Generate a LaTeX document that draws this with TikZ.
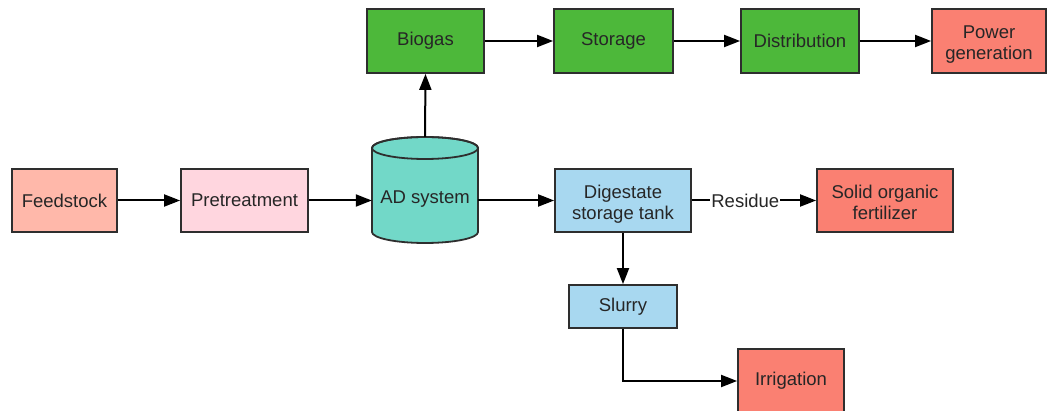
\documentclass[tikz,border=0pt]{standalone}
\usepackage{fontspec}
\setmainfont{Liberation Sans}
\usetikzlibrary{arrows.meta}
\definecolor{bordercol}{HTML}{2E2E2E}
\definecolor{txtcol}{HTML}{262626}
\definecolor{feedcol}{HTML}{FFB8AA}
\definecolor{precol}{HTML}{FFD6DF}
\definecolor{adcol}{HTML}{72D8C8}
\definecolor{bluecol}{HTML}{A8D8F0}
\definecolor{salmoncol}{HTML}{FA8072}
\definecolor{greencol}{HTML}{4DB83A}
\newcommand{\twoln}[2]{\raisebox{-4pt}[\height][\depth]{\begin{tabular}{@{}c@{}}#1\\#2\end{tabular}}}
\tikzset{
  box/.style={draw=bordercol, line width=1.8pt, text=txtcol, align=center,
    font=\fontsize{18.5}{21}\selectfont, inner sep=0pt, minimum height=64pt},
  conn/.style={draw=black, line width=2pt, -{Triangle[length=16pt,width=12pt]}},
}
\begin{document}
\begin{tikzpicture}[x=1pt,y=1pt]
\useasboundingbox (0,0) rectangle (1061,-411);
\clip (0,0) rectangle (1061,-411);
% boxes
\node[box, fill=feedcol, minimum width=105pt, minimum height=63pt] (feed) at (64.5,-200.5) {Feedstock};
\node[box, fill=precol, minimum width=127pt, minimum height=63pt] (pre) at (244.5,-200.5) {Pretreatment};
\node[box, fill=bluecol, minimum width=136pt, minimum height=63pt] (dig) at (623,-200.5) {\twoln{Digestate}{storage tank}};
\node[box, fill=salmoncol, minimum width=136pt, minimum height=63pt] (solid) at (885,-200.5) {\twoln{Solid organic}{fertilizer}};
\node[box, fill=greencol, minimum width=117pt] (biogas) at (425.5,-41) {Biogas};
\node[box, fill=greencol, minimum width=119pt] (storage) at (613.5,-41) {Storage};
\node[box, fill=greencol, minimum width=118pt] (dist) at (800,-41) {Distribution};
\node[box, fill=salmoncol, minimum width=114pt] (power) at (989,-41) {\twoln{Power}{generation}};
\node[box, fill=bluecol, minimum width=108pt, minimum height=43pt] (slurry) at (623,-306.5) {Slurry};
\node[box, fill=salmoncol, minimum width=106pt] (irr) at (791,-381) {Irrigation};
% cylinder
\path[fill=adcol, draw=bordercol, line width=1.8pt]
  (372,-148) -- (372,-232) arc[start angle=180, end angle=360, x radius=53pt, y radius=11pt]
  -- (478,-148) arc[start angle=0, end angle=180, x radius=53pt, y radius=11pt] -- cycle;
\draw[bordercol, line width=1.8pt] (425,-148) ellipse[x radius=53pt, y radius=11pt];
\node[minimum width=106pt, minimum height=106pt, inner sep=0pt] (ad) at (425,-190) {};
\node[text=txtcol, font=\fontsize{18.5}{21}\selectfont] (adlabel) at (425,-199) {AD system};
% connectors
\draw[conn] (feed.east) -- (pre.west);
\draw[conn] (pre.east) -- (pre.east -| ad.west);
\draw[conn] (ad.north) -- (biogas.south);
\draw[conn] (biogas.east) -- (storage.west);
\draw[conn] (storage.east) -- (dist.west);
\draw[conn] (dist.east) -- (power.west);
\draw[conn] (dig.west -| ad.east) -- (dig.west);
\draw[conn] (dig.east) -- node[pos=0.43, fill=white, text=txtcol, inner sep=1pt, font=\fontsize{18.5}{21}\selectfont] (residue) {Residue} (solid.west);
\draw[conn] (dig.south) -- (slurry.north);
\draw[conn] (slurry.south) |- (irr.west);
\end{tikzpicture}
\end{document}
